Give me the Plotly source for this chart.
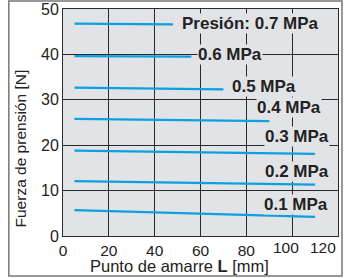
import plotly.graph_objects as go

# Data
pressures = ["0.7", "0.6", "0.5", "0.4", "0.3", "0.2", "0.1"]
x_start = [5, 5, 5, 5, 5, 5, 5]
x_end = [48, 56, 70, 90, 110, 110, 110]
y_start = [46.8, 39.6, 32.7, 25.8, 18.8, 12.1, 5.7]
y_end = [46.6, 39.5, 32.3, 25.3, 18.1, 11.3, 4.2]
label_text = ["Presión: 0.7 MPa", "0.6 MPa", "0.5 MPa", "0.4 MPa", "0.3 MPa", "0.2 MPa", "0.1 MPa"]
x_ticks = [0, 20, 40, 60, 80, 100, 120]
x_ticktext = ["0", "20", "40", "60", "80", "", ""]
y_ticks = [0, 10, 20, 30, 40, 50]

label_x = [51.3, 58.3, 73.5, 84.3, 87.6, 87.6, 87.4]
label_y = [46.7, 40.0, 33.0, 28.4, 22.0, 14.1, 7.0]

BG = "#e2e3e7"
LINE = "#0aa0e2"
GRID = "#2a2a2a"
TXT = "#222222"
FONT = "Liberation Sans, Arial, sans-serif"

fig = go.Figure()
for i in range(len(pressures)):
    fig.add_trace(go.Scatter(
        x=[x_start[i], x_end[i]], y=[y_start[i], y_end[i]],
        mode="lines", line=dict(color=LINE, width=2.2),
        showlegend=False, hoverinfo="skip"))

for i in range(len(pressures)):
    fig.add_annotation(x=label_x[i], y=label_y[i], xref="x", yref="y",
                       text="<b>%s</b>" % label_text[i], showarrow=False,
                       xanchor="left", yanchor="middle",
                       font=dict(family=FONT, size=17, color=TXT),
                       bgcolor=BG, borderpad=0)

# last two x tick labels (shifted left in the original so they stay inside)
fig.add_annotation(x=97.5, y=0, xref="x", yref="y", yshift=-11,
                   text="100", showarrow=False, xanchor="center", yanchor="middle",
                   font=dict(family=FONT, size=15.5, color=TXT))
fig.add_annotation(x=120, y=0, xref="x", yref="y", yshift=-11,
                   text="120", showarrow=False, xanchor="right", yanchor="middle",
                   font=dict(family=FONT, size=15.5, color=TXT))

# axis titles
fig.add_annotation(x=0.422, y=-0.13, xref="paper", yref="paper",
                   text="Punto de amarre <b>L</b> [mm]", showarrow=False,
                   xanchor="center", yanchor="middle",
                   font=dict(family=FONT, size=16.5, color=TXT))
fig.add_annotation(x=-0.156, y=0.386, xref="paper", yref="paper",
                   text="Fuerza de prensión [N]", showarrow=False, textangle=-90,
                   xanchor="center", yanchor="middle",
                   font=dict(family=FONT, size=15.5, color=TXT))

# outer frame
fig.add_shape(type="rect", xref="paper", yref="paper",
              x0=-0.197, x1=1.0145, y0=-0.176, y1=1.035,
              line=dict(color="#777777", width=1.5), fillcolor="rgba(0,0,0,0)",
              layer="below")

fig.update_layout(
    width=344, height=278,
    margin=dict(l=63, r=6, t=9, b=42, autoexpand=False),
    paper_bgcolor="white", plot_bgcolor=BG,
    font=dict(family=FONT, size=16, color=TXT),
    xaxis=dict(range=[0, 120], tickvals=x_ticks, ticktext=x_ticktext,
               showgrid=True, gridcolor=GRID, automargin=False,
               gridwidth=1, zeroline=False, showline=True, linecolor=GRID,
               linewidth=1, mirror=True, ticks="", ticklen=0,
               tickfont=dict(size=15.5)),
    yaxis=dict(range=[0, 50], tickvals=y_ticks, showgrid=True, gridcolor=GRID,
               automargin=False,
               gridwidth=1, zeroline=False, showline=True, linecolor=GRID,
               linewidth=1, mirror=True, ticks="", ticklen=0,
               tickfont=dict(size=16)),
)

fig.write_html("out.html", config={"displayModeBar": False},
               post_script="document.body.style.margin='0';")
